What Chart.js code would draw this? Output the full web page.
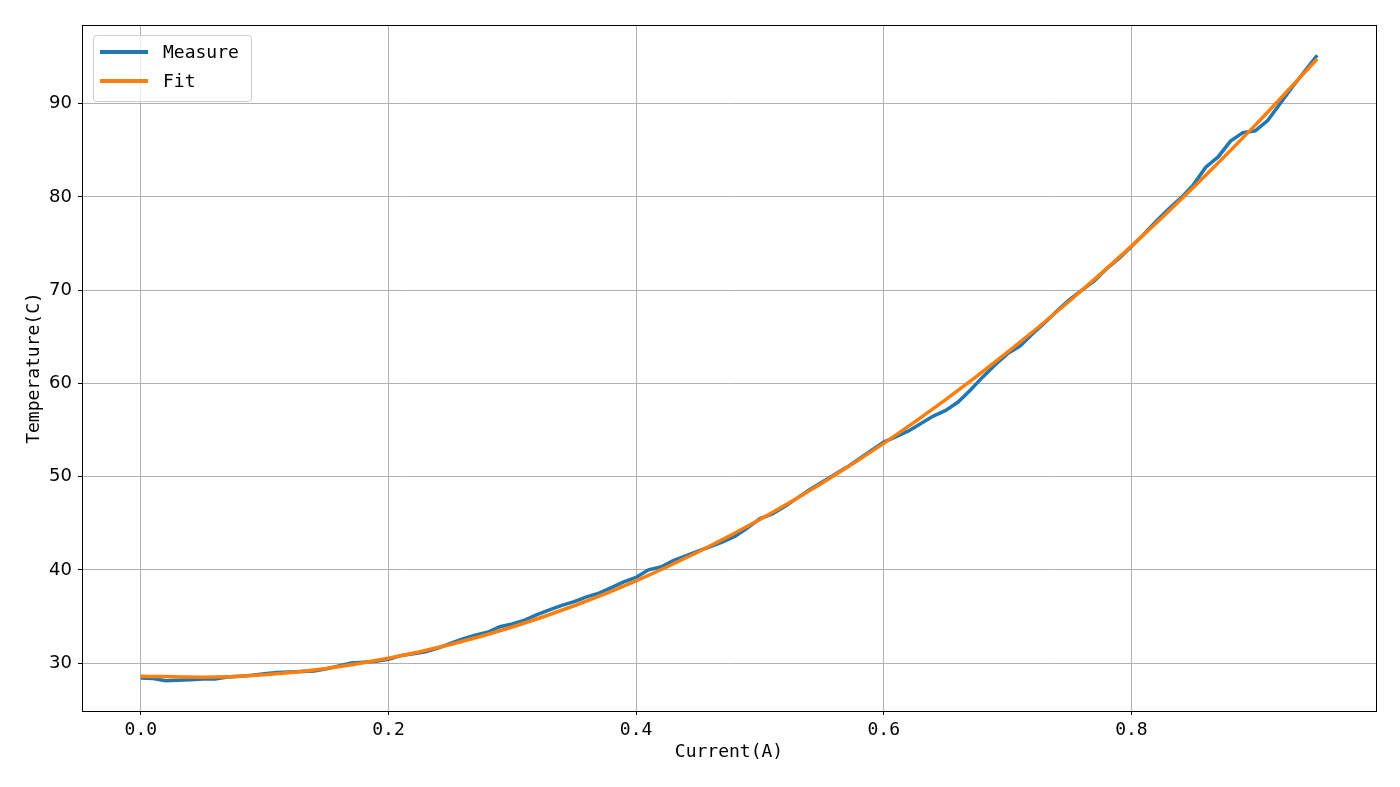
<!DOCTYPE html>
<html>
<head>
<meta charset="utf-8">
<script src="https://cdn.jsdelivr.net/npm/chart.js@4/dist/chart.umd.min.js"></script>
<style>
    body { margin: 0; background: #fff; }
    canvas { display: block; }
</style>
</head>
<body>
<canvas id="chart" width="1400" height="787"></canvas>
<script>
// measured temperature, one sample every 0.01 A
var currents = [];
for (var i = 0; i <= 95; i++) { currents.push(i / 100); }
var measure = [
    28.4, 28.35, 28.1, 28.15, 28.2, 28.3, 28.3, 28.5, 28.6, 28.7,
    28.85, 29.0, 29.05, 29.1, 29.15, 29.4, 29.7, 30.0, 30.1, 30.2,
    30.4, 30.8, 31.0, 31.2, 31.6, 32.1, 32.6, 33.0, 33.3, 33.9,
    34.2, 34.6, 35.2, 35.7, 36.2, 36.6, 37.1, 37.5, 38.1, 38.7,
    39.2, 40.0, 40.3, 41.0, 41.5, 42.0, 42.5, 43.0, 43.6, 44.5,
    45.5, 46.0, 46.8, 47.7, 48.6, 49.4, 50.2, 51.0, 51.9, 52.8,
    53.7, 54.3, 54.9, 55.7, 56.5, 57.1, 58.0, 59.3, 60.7, 62.0,
    63.2, 64.0, 65.3, 66.5, 67.8, 69.0, 70.0, 71.0, 72.3, 73.4,
    74.7, 76.0, 77.4, 78.7, 79.9, 81.3, 83.2, 84.3, 86.0, 86.9,
    87.1, 88.2, 90.0, 91.8, 93.5, 95.2
];

var fitCurrents = [0, 0.05, 0.1, 0.15, 0.2, 0.25, 0.3, 0.35, 0.4, 0.45,
    0.5, 0.55, 0.6, 0.65, 0.7, 0.75, 0.8, 0.85, 0.9, 0.95];
var fit = [28.60, 28.48, 28.75, 29.43, 30.51, 31.99, 33.87, 36.15, 38.83, 41.92,
    45.40, 49.29, 53.57, 58.26, 63.35, 68.84, 74.73, 81.02, 87.71, 94.80];

var xTicks = [0, 0.2, 0.4, 0.6, 0.8];
var yTicks = [30, 40, 50, 60, 70, 80, 90];

var monoFont = "'DejaVu Sans Mono', monospace";

function toPoints(xs, ys) {
    return xs.map(function (x, i) { return {x: x, y: ys[i]}; });
}

// black frame round the plot area
var frame = {
    id: 'frame',
    afterDraw: function (chart) {
        var a = chart.chartArea, ctx = chart.ctx;
        ctx.save();
        ctx.strokeStyle = '#000';
        ctx.lineWidth = 1;
        ctx.strokeRect(Math.round(a.left) + 0.5, Math.round(a.top) + 0.5,
            Math.round(a.right - a.left), Math.round(a.bottom - a.top));
        ctx.restore();
    }
};

// legend box in the upper left corner, inside the plot
var insideLegend = {
    id: 'insideLegend',
    afterDatasetsDraw: function (chart) {
        var ctx = chart.ctx;
        var a = chart.chartArea;
        var x = a.left + 11, y = a.top + 10, w = 158, h = 66;
        ctx.save();
        ctx.fillStyle = 'rgba(255,255,255,0.8)';
        ctx.strokeStyle = '#cccccc';
        ctx.lineWidth = 1;
        ctx.beginPath();
        ctx.roundRect(x + 0.5, y + 0.5, w, h, 3);
        ctx.fill();
        ctx.stroke();
        ctx.font = '18px ' + monoFont;
        ctx.textBaseline = 'middle';
        chart.data.datasets.forEach(function (ds, i) {
            var ly = y + 17 + i * 29;
            ctx.strokeStyle = ds.borderColor;
            ctx.lineWidth = 4;
            ctx.beginPath();
            ctx.moveTo(x + 7, ly);
            ctx.lineTo(x + 55, ly);
            ctx.stroke();
            ctx.fillStyle = '#000';
            ctx.fillText(ds.label, x + 70, ly + 1);
        });
        ctx.restore();
    }
};

new Chart(document.getElementById('chart'), {
    type: 'line',
    data: {
        datasets: [
            {
                label: 'Measure',
                data: toPoints(currents, measure),
                borderColor: '#1f77b4',
                borderWidth: 3.5,
                pointRadius: 0,
                tension: 0,
                order: 1
            },
            {
                label: 'Fit',
                data: toPoints(fitCurrents, fit),
                borderColor: '#ff7f0e',
                borderWidth: 3.5,
                pointRadius: 0,
                cubicInterpolationMode: 'monotone',
                order: 0
            }
        ]
    },
    options: {
        responsive: false,
        animation: false,
        layout: { padding: { top: 25, right: 24, left: 0, bottom: 0 } },
        plugins: {
            legend: { display: false },
            tooltip: { enabled: false }
        },
        scales: {
            x: {
                type: 'linear',
                min: -0.0475,
                max: 0.9975,
                afterBuildTicks: function (scale) {
                    scale.ticks = xTicks.map(function (v) { return {value: v}; });
                },
                afterFit: function (scale) { scale.height = 76; },
                ticks: {
                    color: '#000',
                    font: { family: monoFont, size: 18 },
                    padding: 5,
                    maxRotation: 0,
                    callback: function (v) { return v.toFixed(1); }
                },
                grid: { color: '#b0b0b0', lineWidth: 1, tickLength: 4, tickColor: '#000' },
                border: { color: '#000', width: 1 },
                title: {
                    display: true,
                    text: 'Current(A)',
                    color: '#000',
                    font: { family: monoFont, size: 18 },
                    padding: { bottom: 24 }
                }
            },
            y: {
                min: 24.86,
                max: 98.45,
                afterBuildTicks: function (scale) {
                    scale.ticks = yTicks.map(function (v) { return {value: v}; });
                },
                afterFit: function (scale) { scale.width = 82; },
                ticks: {
                    color: '#000',
                    font: { family: "'DejaVu Sans', sans-serif", size: 18 },
                    padding: 6
                },
                grid: { color: '#b0b0b0', lineWidth: 1, tickLength: 4, tickColor: '#000' },
                border: { color: '#000', width: 1 },
                title: {
                    display: true,
                    text: 'Temperature(C)',
                    color: '#000',
                    font: { family: monoFont, size: 18 },
                    padding: { top: 24 }
                }
            }
        }
    },
    plugins: [frame, insideLegend]
});
</script>
</body>
</html>
